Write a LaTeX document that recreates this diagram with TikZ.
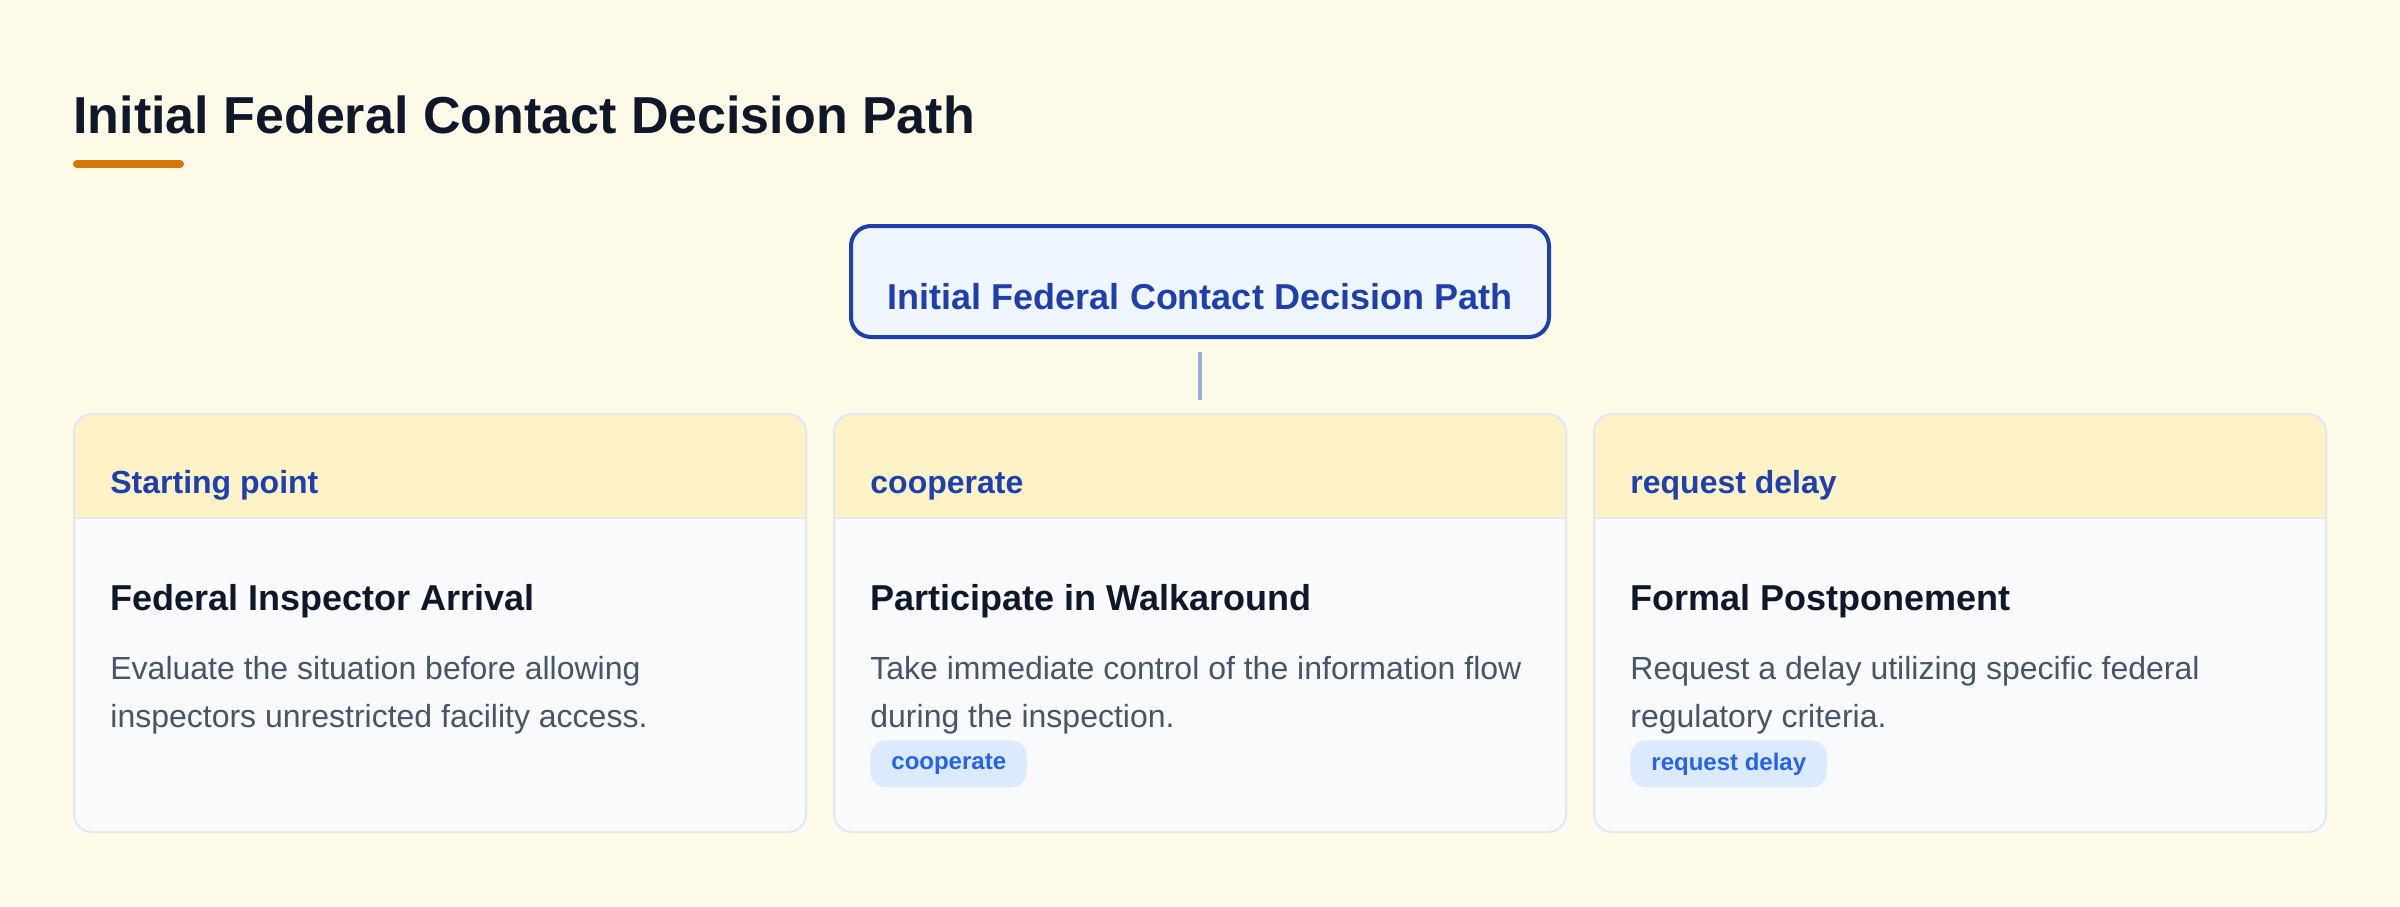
\documentclass[tikz,border=0pt]{standalone}
\usepackage{fontspec}
\setmainfont{Liberation Sans}
\definecolor{bg}{HTML}{FEFAE8}
\definecolor{ink}{HTML}{0F172A}
\definecolor{accent}{HTML}{D97706}
\definecolor{rootfill}{HTML}{EFF6FF}
\definecolor{rootline}{HTML}{1E40AF}
\definecolor{conn}{HTML}{9FACD4}
\definecolor{hdr}{HTML}{FEF3C7}
\definecolor{cardbody}{HTML}{F8FAFC}
\definecolor{cardline}{HTML}{E2E8F0}
\definecolor{desc}{HTML}{475569}
\definecolor{tagbg}{HTML}{DBEAFE}
\definecolor{tagfg}{HTML}{2563EB}
\tikzset{
  maintitle/.style={anchor=base west, inner sep=0, text=ink, font=\fontsize{26}{31}\selectfont\bfseries},
  rootbox/.style={draw=rootline, line width=2pt, fill=rootfill, rounded corners=10pt,
    minimum width=349pt, minimum height=55.5pt, inner sep=0, outer sep=0},
  roottext/.style={anchor=base, inner sep=0, text=rootline, font=\fontsize{18}{22}\selectfont\bfseries},
  connector/.style={draw=conn, line width=2pt, shorten <=7.5pt, shorten >=7pt},
  cardbox/.style={fill=cardbody, minimum width=366pt, minimum height=209pt, inner sep=0, outer sep=0},
  cardborder/.style={draw=cardline, line width=1pt, rounded corners=9pt},
  hdrtext/.style={anchor=base west, inner sep=0, text=rootline, font=\fontsize{16}{19}\selectfont\bfseries},
  cardtitle/.style={anchor=base west, inner sep=0, text=ink, font=\fontsize{18}{22}\selectfont\bfseries},
  desctext/.style={anchor=base west, inner sep=0, text=desc, font=\fontsize{16}{24}\selectfont},
  tagpill/.style={anchor=north west, fill=tagbg, text=tagfg, rounded corners=8pt, inner xsep=10.5pt, inner ysep=0pt,
    minimum height=23.5pt, font=\fontsize{12}{14}\selectfont\bfseries}
}
\newcommand{\mkcard}[6]{%
  \node[cardbox] (#1) at (#2,623) {};
  \begin{scope}
    \clip[rounded corners=9pt] (#1.north west) rectangle (#1.south east);
    \fill[cardbody] (#1.north west) rectangle (#1.south east);
    \fill[hdr] (#1.north west) rectangle ([yshift=-52pt]#1.north east);
  \end{scope}
  \draw[draw=cardline, line width=1.2pt] ([yshift=-52pt]#1.north west) -- ([yshift=-52pt]#1.north east);
  \draw[cardborder] (#1.north west) rectangle (#1.south east);
  \node[hdrtext] (#1h) at ({#2-330},493) {#3};
  \node[cardtitle] (#1t) at ({#2-330},610) {#4};
  \node[desctext] (#1a) at ({#2-330},679) {#5};
  \node[desctext] (#1b) at ({#2-330},727) {#6};
}
\begin{document}
\begin{tikzpicture}[x=0.5pt,y=-0.5pt]
  \fill[bg] (0,0) rectangle (2400,906);
  \useasboundingbox (0,0) rectangle (2400,906);
  \node[maintitle] (title) at (73,133) {Initial Federal Contact Decision Path};
  \draw[accent, line width=4pt, line cap=round] (77,164) -- (180,164);
  \node[rootbox] (root) at (1200,281.5) {};
  \node[roottext] (rootlabel) at (1200,309) {Initial Federal Contact Decision Path};
  \mkcard{c1}{440}{Starting point}{Federal Inspector Arrival}{Evaluate the situation before allowing}{inspectors unrestricted facility access.}
  \mkcard{c2}{1200}{cooperate}{Participate in Walkaround}{Take immediate control of the information flow}{during the inspection.}
  \mkcard{c3}{1960}{request delay}{Formal Postponement}{Request a delay utilizing specific federal}{regulatory criteria.}
  \node[tagpill] (tag2) at (870,740) {cooperate};
  \node[tagpill] (tag3) at (1630,740) {request delay};
  \draw[connector] (root) -- (c2);
\end{tikzpicture}
\end{document}
